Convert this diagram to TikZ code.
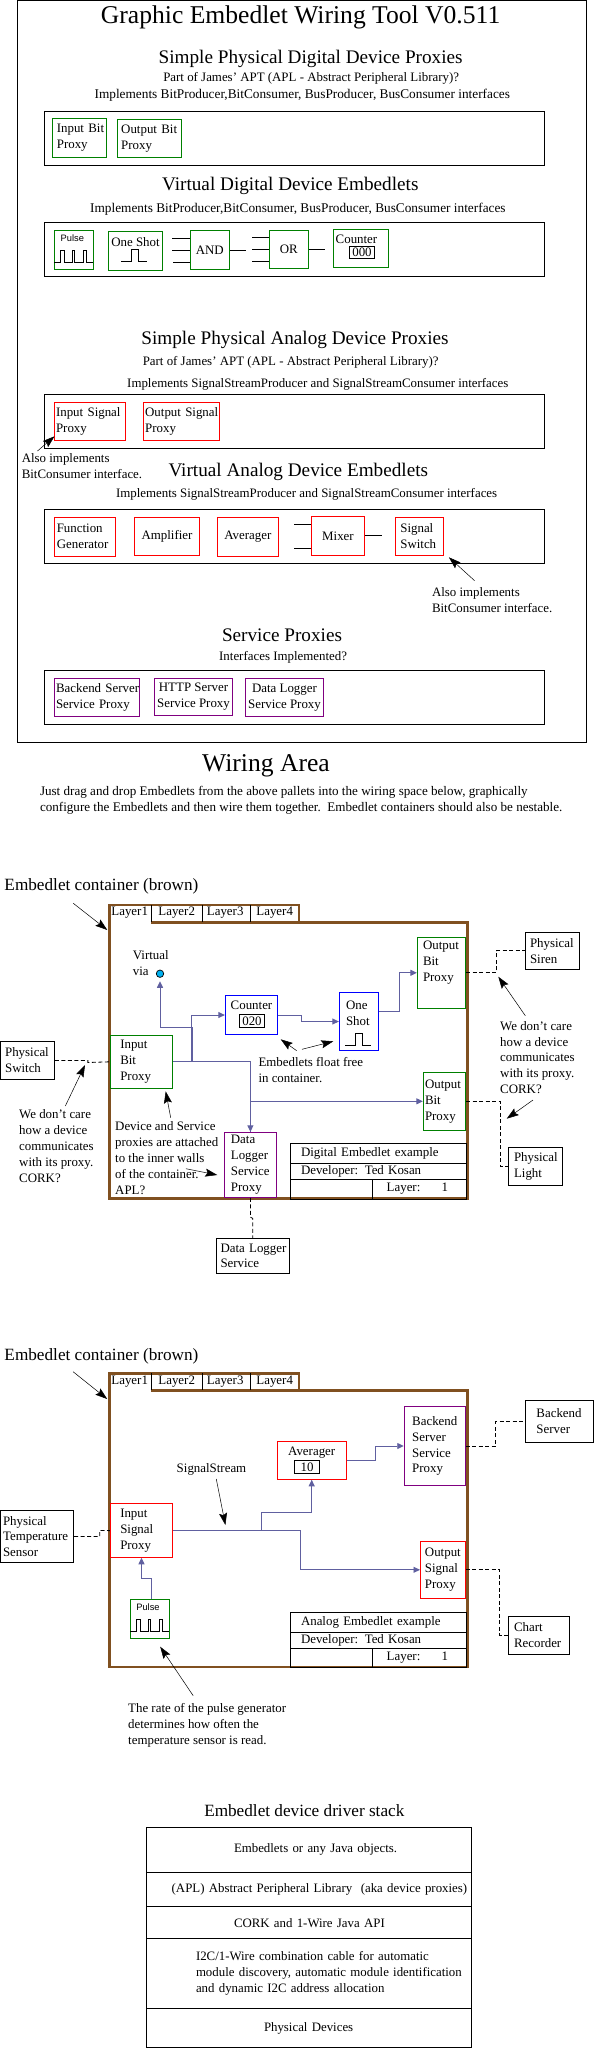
\documentclass[tikz,border=0pt]{standalone}
\usepackage{fontspec}
\setmainfont{Liberation Serif}
\newfontfamily\pulsefont{Liberation Sans}
\usetikzlibrary{arrows.meta,positioning}
\definecolor{embgreen}{RGB}{0,128,0}
\definecolor{embpurple}{RGB}{128,0,128}
\definecolor{embbrown}{RGB}{128,80,32}
\definecolor{embwire}{RGB}{96,96,160}
\definecolor{embvia}{RGB}{0,176,240}
\tikzset{
tx/.style={font=\fontsize{12.9}{15.9}\selectfont,inner sep=0pt,align=left},
ln/.style={font=\fontsize{13.3}{15.9}\selectfont,inner sep=0pt},
hd/.style={font=\fontsize{19.2}{22}\selectfont,inner sep=0pt},
bg/.style={font=\fontsize{25.6}{30}\selectfont,inner sep=0pt},
sb/.style={font=\fontsize{17.2}{20}\selectfont,inner sep=0pt},
sz/.style n args={3}{minimum width=#1pt,minimum height=#2pt,text width=#1pt,execute at begin node={\leftskip=#3pt\relax\hyphenpenalty=10000\relax}},
cz/.style 2 args={minimum width=#1pt,minimum height=#2pt,align=center},
bx/.style={tx,draw,line width=0.9pt,inner sep=0pt},
gb/.style={bx,draw=embgreen},rb/.style={bx,draw=red},pb/.style={bx,draw=embpurple},nb/.style={bx,draw=blue},
lr/.style={font=\fontsize{12.85}{16}\selectfont},
wire/.style={draw=embwire,line width=0.9pt},
warr/.style={wire,-{Triangle[length=6.5pt,width=6pt]}},
dsh/.style={line width=0.8pt,dash pattern=on 4pt off 2.5pt},
stub/.style={line width=0.8pt},
ann/.style={line width=0.5pt,-{Stealth[length=12pt,width=8pt,inset=2pt]}},
pf/.style={font=\pulsefont\fontsize{9.3}{11}\selectfont,inner sep=0pt},
pulsewave/.pic={\draw[stub](0,0)--(6,0)--(6,-12.3)--(9.7,-12.3)--(9.7,0)--(17.7,0)--(17.7,-12.3)--(20.4,-12.3)--(20.4,0)--(29,0)--(29,-12.3)--(31.7,-12.3)--(31.7,0)--(39,0);},
shotwave/.pic={\draw[stub](0,0)--(10.7,0)--(10.7,-12)--(17.3,-12)--(17.3,0)--(25.7,0);},
contbox/.pic={\draw[embbrown,line width=2.6pt,line join=miter](41.2,17.2)-|(358.2,293.6)-|(0,0)-|(189.5,17.2);
\foreach \x in{41.8,92.8,140.8}\draw[stub](\x,0)--(\x,17);
\foreach \x/\n in{20.2/1,67.2/2,115.7/3,165.2/4}\node[tx](lay\n)at(\x,8){Layer\n};}
}
\begin{document}
\begin{tikzpicture}[x=1pt,y=-1pt]
\useasboundingbox(0,0)rectangle(594,2048);
\node[bx,sz={568.5}{742}{0}](frame)at(302,371.7){};
\node[bg](title)at(300.6,17){Graphic Embedlet Wiring Tool V0.511};
\node[hd](h1)at(310.6,59){Simple Physical Digital Device Proxies};
\node[tx](h1a)at(311.2,78.7){Part of James' APT (APL - Abstract Peripheral Library)?};
\node[ln](h1b)at(302.3,95){Implements BitProducer,BitConsumer, BusProducer, BusConsumer interfaces};
\node[bx,sz={500}{53.3}{0}](pal1)at(294.3,138.3){};
\node[gb,sz={54.1}{39}{4.5}](ibp)at(79.4,137.8){Input Bit\\Proxy};
\node[gb,sz={64}{38}{3.8}](obp)at(149.4,138.3){Output Bit\\Proxy};
\node[hd](h2)at(290.3,185.7){Virtual Digital Device Embedlets};
\node[ln](h2a)at(297.9,209){Implements BitProducer,BitConsumer, BusProducer, BusConsumer interfaces};
\node[bx,sz={500}{54}{0}](pal2)at(294.3,249.3){};
\node[gb,sz={39}{39}{0}](pls)at(73.9,250){};\node[pf](plsl)at(72.3,237.7){Pulse};\pic at(54.3,262.3){pulsewave};
\node[gb,cz={54.4}{38.6}](shot)at(135.5,251){One Shot\\[2pt]~};\pic at(121,261.3){shotwave};
\node[gb,cz={39}{38.6}](and)at(209.8,250){AND};
\foreach \x/\y in{172/238.3,172/250.3,173/262}{\coordinate(s)at(\x,\y);\draw[stub](s)--(s-|and.west);}
\coordinate(ao)at(246,250.3);\draw[stub](ao-|and.east)--(ao);
\node[gb,cz={39}{38}](or)at(288.8,249.3){OR};
\foreach \x/\y in{252/237.3,252/249.3,252/261.3}{\coordinate(s)at(\x,\y);\draw[stub](s)--(s-|or.west);}
\coordinate(oo)at(324.7,249.3);\draw[stub](oo-|or.east)--(oo);
\node[gb,sz={55.4}{37.6}{2.4}](cnt)at(361,248.5){Counter\\[3pt]~};
\node[bx,cz={25.4}{11.7}](cntv)at(362,252.5){000};
\node[hd](h3)at(295,340){Simple Physical Analog Device Proxies};
\node[tx](h3a)at(290.7,362){Part of James' APT (APL - Abstract Peripheral Library)?};
\node[tx](h3b)at(317.8,384){Implements SignalStreamProducer and SignalStreamConsumer interfaces};
\node[bx,sz={500}{54}{0}](pal3)at(294.3,421.3){};
\node[rb,sz={70.9}{38}{1.5}](isp)at(90,421.3){Input Signal\\Proxy};
\node[rb,sz={75.7}{38}{1.5}](osp)at(181.5,421.3){Output Signal\\Proxy};
\coordinate(n1s)at(37.5,451);\coordinate(n1e)at(54.5,436.3);\draw[ann](n1s)--(n1e);
\node[tx,anchor=north west](n1)at(21.6,453.5){Also implements\\BitConsumer interface.};
\node[hd](h4)at(298.3,471.7){Virtual Analog Device Embedlets};
\node[tx](h4a)at(306.6,494){Implements SignalStreamProducer and SignalStreamConsumer interfaces};
\node[bx,sz={500}{54}{0}](pal4)at(294.3,536.3){};
\node[rb,sz={61}{39.3}{2.3}](fng)at(85,536.7){Function\\Generator};
\node[rb,cz={65.1}{38}](amp)at(167,536.3){Amplifier};
\node[rb,cz={61}{39}](avg)at(247.9,536.8){Averager};
\node[rb,cz={53.4}{39}](mix)at(338,535.8){Mixer};
\foreach \x/\y in{294/524.3,294/548.3}{\coordinate(s)at(\x,\y);\draw[stub](s)--(s-|mix.west);}
\coordinate(mo)at(381.8,535.8);\draw[stub](mix.east)--(mo);
\node[rb,sz={47.7}{38}{4.9}](ssw)at(419.3,536.3){Signal\\Switch};
\coordinate(n2s)at(474.6,580.7);\coordinate(n2e)at(448.9,557.3);\draw[ann](n2s)--(n2e);
\node[tx,anchor=north west](n2)at(431.8,587.5){Also implements\\BitConsumer interface.};
\node[hd](h5)at(282,635){Service Proxies};
\node[tx](h5a)at(283.1,657){Interfaces Implemented?};
\node[bx,sz={500}{54}{0}](pal5)at(294.3,697.3){};
\node[pb,sz={84.9}{38}{1.5}](bsp)at(97,697.3){Backend Server\\Service Proxy};
\node[pb,cz={78}{37}](hsp)at(193.5,696.8){HTTP Server\\Service Proxy};
\node[pb,cz={78}{38}](dsp)at(284.5,697.3){Data Logger\\Service Proxy};
\node[bg](wa)at(266,766){Wiring Area};
\node[tx,font=\fontsize{13.1}{15.9}\selectfont,anchor=north west](wb)at(39.8,786){Just drag and drop Embedlets from the above pallets into the wiring space below, graphically\\configure the Embedlets and then wire them together.~~Embedlet containers should also be nestable.};
\node[sb,anchor=west](c1t)at(4.3,886){Embedlet container (brown)};
\pic at(109.5,905){contbox};
\coordinate(c1s)at(73.3,903.3);\coordinate(c1e)at(107.3,930);\draw[ann](c1s)--(c1e);
\node[tx,anchor=north west](vt)at(132.7,950){Virtual\\via};
\node[draw,circle,fill=embvia,minimum size=7.4pt,inner sep=0pt,line width=0.7pt](via)at(160,973.7){};
\node[gb,sz={62.4}{53}{10}](d1)at(141.5,1061.8){Input\\Bit\\Proxy};
\node[nb,cz={52.4}{38.6}](d2)at(251.5,1015){Counter\\[3pt]~};
\node[bx,cz={25.4}{12.3}](d2v)at(252,1020.8){020};
\node[nb,sz={39.4}{57.7}{6.7}](d3)at(359,1021.5){One\\Shot\\~};\pic at(345,1045.3){shotwave};
\node[gb,sz={48.4}{71}{5.7}](d4)at(441.5,972.8){Output\\Bit\\Proxy\\[8pt]~};
\node[gb,sz={42.4}{58}{1.7}](d5)at(444.5,1101.3){Output\\Bit\\Proxy};
\node[pb,sz={51.2}{65}{6.1}](d6)at(250.4,1164.8){Data\\Logger\\Service\\Proxy};
\node[bx,sz={53.8}{37.6}{4.5}](sw)at(27.5,1060.5){Physical\\Switch};
\node[bx,sz={54.4}{37}{4.7}](sr)at(552.5,950.8){Physical\\Siren};
\node[bx,sz={54.3}{38}{6}](lt)at(535.2,1166.3){Physical\\Light};
\node[bx,sz={73}{35}{4.2}](ds)at(252.8,1255.8){Data Logger\\Service};
\coordinate(jv)at(192.6,1061.8);\coordinate(jc)at(191.4,1061.8);
\draw[wire](d1.east)-|(d6.north);
\draw[warr](d1.east-|d6.north)--(d6.north);
\draw[warr](jv)--(192.6,1027)-|([yshift=-3.5pt]via.south);
\draw[warr](jc)|-(d2.west);
\draw[warr](d2.east)--++(23.6,0)|-(d3.west);
\draw[warr]([yshift=10.2pt]d3.east)--++(20,0)|-(d4.west);
\draw[warr](d6.north|-d5.west)--(d5.west);
\draw[dsh](sw.east)--++(33,0)--++(0,2)--(d1.west);
\draw[dsh](d4.east)--++(30,0)|-(sr.west);
\draw[dsh](d5.east)--++(34,0)|-(lt.west);
\draw[dsh](d6.south)--++(0,19.4)--++(2.4,1.3)--(ds.north);
\coordinate(a1s)at(65.3,1106);\coordinate(a1e)at(85,1065);\draw[ann](a1s)--(a1e);
\coordinate(a2s)at(170.7,1117.7);\coordinate(a2e)at(165.7,1091.3);\draw[ann](a2s)--(a2e);
\coordinate(a3s)at(186,1168.7);\coordinate(a3e)at(217.3,1175);\draw[ann](a3s)--(a3e);
\coordinate(a4s)at(296.7,1050.7);\coordinate(a4e)at(280.7,1039.3);\draw[ann](a4s)--(a4e);
\coordinate(a5s)at(302,1049.3);\coordinate(a5e)at(333.3,1041.3);\draw[ann](a5s)--(a5e);
\coordinate(a6s)at(525.3,1015.7);\coordinate(a6e)at(498.3,976.7);\draw[ann](a6s)--(a6e);
\coordinate(a7s)at(533,1100);\coordinate(a7e)at(506.7,1118.7);\draw[ann](a7s)--(a7e);
\node[tx,anchor=north west](t1)at(19,1109.5){We don't care\\how a device\\communicates\\with its proxy.\\CORK?};
\node[tx,anchor=north west](t2)at(115,1121.5){Device and Service\\proxies are attached\\to the inner walls\\of the container.\\APL?};
\node[tx,anchor=north west](t3)at(258.3,1057){Embedlets float free\\in container.};
\node[tx,anchor=north west](t4)at(500,1021){We don't care\\how a device\\communicates\\with its proxy.\\CORK?};
\node[bx,sz={176.2}{20}{10.5}](i1)at(378.6,1153.7){Digital Embedlet example};
\node[bx,sz={176.2}{15.6}{10.5}](i2)at(378.6,1171.5){Developer: Ted Kosan};
\node[bx,sz={82.2}{19.7}{0}](i3)at(331.6,1189.1){};
\node[bx,sz={94}{19.7}{14}](i4)at(419.7,1189.1){\makebox[55pt][l]{Layer:}1};
\node[sb,anchor=west](c2t)at(4.3,1356){Embedlet container (brown)};
\pic at(109.5,1373.3){contbox};
\coordinate(c2s)at(73.1,1371.7);\coordinate(c2e)at(107.2,1399);\draw[ann](c2s)--(c2e);
\node[tx](ss)at(211.5,1469){SignalStream};
\coordinate(b1s)at(216.3,1479);\coordinate(b1e)at(225.4,1525);\draw[ann](b1s)--(b1e);
\node[rb,sz={62.5}{53.4}{10}](e1)at(141.5,1530.6){Input\\Signal\\Proxy};
\node[rb,cz={68.9}{38}](e2)at(311.7,1460.3){Averager\\[3pt]~};
\node[bx,cz={25.4}{13}](e2v)at(307,1467.2){10};
\node[pb,sz={61}{78.6}{8}](e3)at(434.7,1446){Backend\\Server\\Service\\Proxy};
\node[rb,sz={44.7}{57}{4.5}](e4)at(442.8,1569.8){Output\\Signal\\Proxy};
\node[gb,sz={39}{39.4}{0}](e5)at(149.8,1619){};\node[pf](e5l)at(148,1606.7){Pulse};\pic at(130.3,1631.7){pulsewave};
\node[bx,sz={73.1}{51.6}{2.6}](tp)at(37,1536.5){Physical\\Temperature\\Sensor};
\node[bx,sz={68.1}{41.6}{11}](bk)at(559.5,1421.5){Backend\\Server};
\node[bx,sz={61}{38}{5.7}](cr)at(538.8,1635.3){Chart\\Recorder};
\coordinate(j2)at(261.4,1530.6);\coordinate(j3)at(151.5,1599.3);
\draw[warr](e1.east)--(300.4,1530.6)|-(e4.west);
\draw[warr](j2)--(261.4,1512.3)-|(e2.south);
\draw[warr](e2.east)--++(29.2,0)|-(e3.west);
\draw[warr](j3)--(151.5,1578.3)-|(e1.south);
\draw[dsh](tp.east)--++(25.7,0)--++(0,-6)--(e1.west);
\draw[dsh](e3.east)--++(30,0)|-(bk.west);
\draw[dsh](e4.east)--++(34,0)|-(cr.west);
\coordinate(b2s)at(193.2,1695.7);\coordinate(b2e)at(160.2,1646.7);\draw[ann](b2s)--(b2e);
\node[tx,anchor=north west](t5)at(128,1703){The rate of the pulse generator\\determines how often the\\temperature sensor is read.};
\node[bx,sz={176.2}{20}{10.5}](k1)at(378.6,1622.7){Analog Embedlet example};
\node[bx,sz={176.2}{16}{10.5}](k2)at(378.6,1640.7){Developer: Ted Kosan};
\node[bx,sz={82.2}{18.6}{0}](k3)at(331.6,1658){};
\node[bx,sz={94}{18.6}{14}](k4)at(419.7,1658){\makebox[55pt][l]{Layer:}1};
\node[sb](st)at(304.3,1810.7){Embedlet device driver stack};
\node[bx,lr,sz={325.4}{45.4}{87.7}](s1)at(309,1850){\mbox{}\\[-8pt]Embedlets or any Java objects.};
\node[bx,lr,sz={325.4}{34}{25.4}](s2)at(309,1889.7){(APL) Abstract Peripheral Library~~(aka device proxies)};
\node[bx,lr,sz={325.4}{32}{87.7}](s3)at(309,1922.7){CORK and 1-Wire Java API};
\node[bx,lr,sz={325.4}{70}{49.7}](s4)at(309,1973.7){I2C/1-Wire combination cable for automatic\\module discovery, automatic module identification\\and dynamic I2C address allocation};
\node[bx,lr,sz={325.4}{38.6}{117.7}](s5)at(309,2028){Physical Devices};
\end{tikzpicture}
\end{document}
